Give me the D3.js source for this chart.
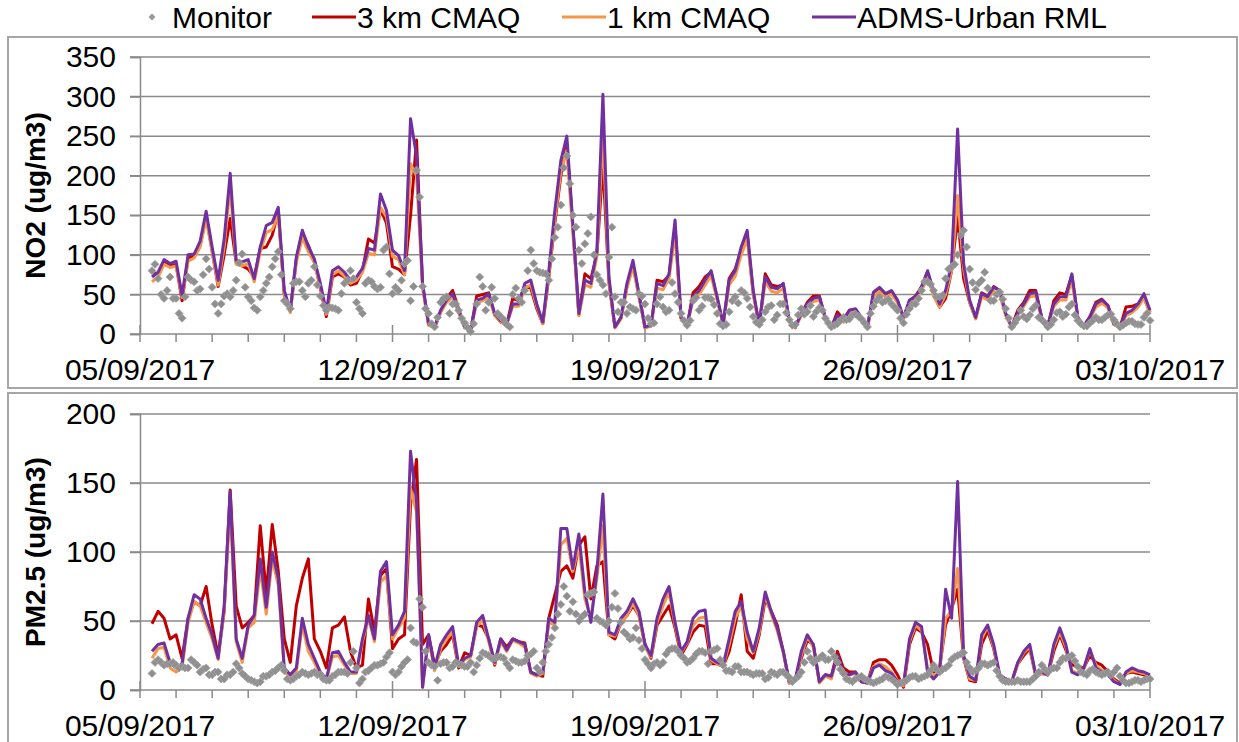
<!DOCTYPE html>
<html>
<head>
<meta charset="utf-8">
<script src="https://cdn.jsdelivr.net/npm/d3@7"></script>
<style>
  body { margin: 0; background: #fff; }
  text { font-family: "Liberation Sans", Arial, sans-serif; fill: #000; }
</style>
</head>
<body>
<svg id="chart" width="1239" height="742"></svg>
<script>
// model values are 4-hourly, first one at 05/09/2017 08:00
var startHour = 8;
var stepHours = 4;

var seriesNames = ["Monitor", "3 km CMAQ", "1 km CMAQ", "ADMS-Urban RML"];
var dateLabels = ["05/09/2017", "12/09/2017", "19/09/2017", "26/09/2017", "03/10/2017"];
var no2Ticks = [0, 50, 100, 150, 200, 250, 300, 350];
var pm25Ticks = [0, 50, 100, 150, 200];

// NO2 (ug/m3)
// monitor: "On" = 08:00, 12:00, ... ; "Mid" = 10:00, 14:00, ...
var no2MonitorOn = [80, 70, 45, 72, 45, 20, 72, 66, 57, 95, 59, 26, 48, 47, 68, 101, 47, 33, 47, 64, 85, 104, 42, 32, 66, 55, 64, 85, 48, 30, 33, 30, 64, 80, 40, 26, 68, 60, 59, 110, 51, 55, 89, 42, 207, 60, 26, 9, 40, 47, 38, 30, 14, 3, 38, 60, 40, 45, 22, 12, 50, 45, 55, 106, 80, 77, 68, 122, 163, 225, 150, 106, 114, 148, 75, 62, 97, 47, 40, 26, 32, 51, 38,
    13, 38, 34, 30, 51, 26, 11, 42, 30, 46, 44, 26, 10, 28, 47, 55, 45, 22, 12, 28, 36, 24, 38, 18, 12, 32, 28, 22, 33, 20, 9, 13, 21, 19, 25, 19, 9, 35, 47, 42, 38, 30, 14, 32, 38, 55, 66, 55, 47, 70, 85, 100, 131, 82, 56, 68, 58, 42, 53, 32, 9, 20, 22, 24, 36, 18, 9, 18, 28, 25, 38, 17, 10, 14, 21, 18, 24, 18, 9, 14, 16, 12, 21, 17];
var no2MonitorMid = [88, 50, 55, 45, 26, 47, 68, 55, 75, 82, 38, 38, 51, 55, 90, 59, 42, 30, 55, 72, 95, 75, 38, 64, 66, 47, 68, 62, 36, 34, 32, 51, 68, 70, 32, 64, 66, 57, 106, 76, 59, 68, 93, 60, 173, 32, 13, 21, 45, 26, 38, 20, 8, 13, 72, 30, 59, 26, 18, 9, 58, 40, 80, 89, 78, 76, 95, 135, 210, 190, 135, 89, 127, 100, 68, 51, 135, 28, 40, 34, 30, 48,
    20, 14, 47, 28, 65, 40, 17, 17, 46, 35, 46, 37, 13, 12, 42, 39, 52, 34, 15, 18, 34, 18, 38, 27, 11, 24, 25, 36, 28, 30, 14, 11, 17, 18, 24, 22, 14, 26, 42, 40, 44, 34, 20, 25, 38, 45, 66, 63, 47, 49, 82, 88, 125, 110, 65, 64, 78, 42, 50, 44, 20, 14, 30, 19, 32, 21, 14, 12, 27, 22, 34, 24, 13, 10, 17, 18, 21, 25, 13, 11, 16, 13, 12, 26];
var no2Cmaq3 = [77, 76, 90, 86, 88, 42, 96, 98, 112, 150, 105, 60, 100, 146, 90, 86, 82, 72, 108, 110, 125, 155, 50, 28, 94, 128, 112, 92, 58, 22, 72, 76, 72, 62, 64, 80, 120, 115, 158, 140, 85, 82, 75, 150, 245, 62, 12, 8, 28, 45, 55, 32, 8, 5, 48, 50, 52, 24, 15, 12, 45, 42, 60, 58, 32, 13, 72, 140, 200, 240, 135, 24, 76, 70, 100, 215, 65, 8, 20, 60, 88, 48, 8,
    10, 68, 66, 74, 135, 20, 10, 52, 60, 72, 78, 45, 12, 70, 82, 106, 125, 52, 10, 76, 62, 60, 62, 16, 8, 26, 40, 48, 48, 20, 8, 28, 18, 30, 30, 20, 8, 50, 56, 50, 54, 42, 20, 42, 48, 60, 78, 50, 34, 45, 80, 148, 70, 40, 20, 52, 48, 60, 55, 25, 9, 30, 40, 55, 55, 20, 10, 42, 52, 50, 74, 20, 10, 22, 40, 44, 36, 12, 8, 34, 35, 38, 46, 27];
var no2Cmaq1 = [66, 72, 88, 84, 86, 46, 92, 96, 110, 145, 104, 62, 110, 185, 88, 86, 89, 66, 104, 128, 132, 150, 50, 27, 90, 122, 104, 90, 60, 25, 75, 80, 73, 64, 68, 78, 102, 100, 160, 148, 98, 94, 75, 215, 200, 58, 11, 8, 27, 40, 47, 27, 8, 4, 40, 42, 47, 24, 15, 12, 35, 35, 58, 62, 35, 13, 74, 145, 205, 232, 128, 23, 62, 59, 98, 255, 66, 8, 19, 58, 85, 47, 8,
    10, 58, 56, 70, 128, 19, 10, 43, 50, 62, 74, 43, 12, 62, 73, 100, 120, 50, 10, 66, 54, 52, 58, 15, 8, 23, 35, 41, 43, 19, 8, 22, 15, 27, 29, 19, 8, 48, 54, 47, 50, 40, 19, 40, 43, 54, 72, 48, 34, 50, 80, 175, 82, 40, 19, 47, 43, 54, 50, 23, 8, 24, 35, 47, 48, 19, 10, 35, 43, 43, 68, 19, 10, 19, 34, 39, 33, 12, 8, 23, 27, 34, 46, 27];
var no2Adms = [72, 78, 94, 89, 92, 49, 100, 101, 117, 155, 110, 68, 120, 203, 93, 91, 94, 70, 110, 137, 141, 160, 55, 30, 97, 131, 110, 95, 64, 28, 80, 85, 78, 68, 72, 83, 108, 106, 177, 156, 106, 99, 80, 272, 225, 64, 13, 9, 30, 43, 51, 30, 9, 5, 43, 45, 51, 26, 17, 13, 38, 38, 64, 68, 38, 15, 80, 156, 219, 250, 139, 26, 68, 64, 106, 303, 72, 9, 21, 64, 93, 51, 9,
    11, 64, 61, 76, 144, 21, 11, 47, 55, 68, 80, 47, 13, 68, 80, 110, 131, 55, 11, 72, 59, 57, 64, 17, 9, 26, 38, 45, 47, 21, 9, 24, 17, 30, 32, 21, 9, 53, 59, 51, 55, 43, 21, 43, 47, 59, 80, 55, 38, 55, 89, 259, 89, 43, 21, 51, 47, 59, 55, 26, 9, 26, 38, 51, 53, 21, 11, 38, 47, 47, 76, 21, 11, 21, 38, 43, 36, 13, 9, 26, 30, 38, 51, 30];

// PM2.5 (ug/m3)
var pm25MonitorOn = [12, 22, 18, 19, 18, 17, 16, 20, 13, 16, 11, 13, 8, 11, 19, 12, 8, 6, 6, 10, 13, 16, 14, 7, 10, 13, 11, 13, 11, 7, 10, 13, 13, 20, 16, 8, 14, 18, 19, 24, 13, 13, 20, 45, 34, 60, 20, 17, 19, 20, 17, 19, 17, 20, 18, 27, 25, 23, 24, 19, 22, 20, 21, 26, 16, 20, 33, 45, 62, 68, 64, 50, 55, 70, 52, 49, 50, 70, 49, 40, 38, 36, 22,
    16, 20, 20, 29, 30, 25, 20, 23, 28, 27, 28, 30, 18, 14, 17, 13, 13, 11, 12, 8, 13, 11, 13, 9, 8, 13, 28, 20, 23, 22, 28, 20, 12, 7, 8, 10, 7, 5, 7, 10, 8, 4, 6, 9, 10, 9, 11, 18, 13, 16, 22, 25, 27, 16, 14, 19, 18, 20, 10, 6, 6, 7, 6, 6, 10, 18, 13, 16, 20, 23, 25, 17, 12, 14, 13, 11, 13, 13, 10, 5, 6, 7, 7, 8];
var pm25MonitorMid = [20, 20, 19, 20, 16, 16, 22, 18, 15, 11, 13, 8, 11, 13, 16, 10, 7, 5, 10, 11, 14, 18, 8, 8, 11, 12, 12, 11, 8, 7, 11, 13, 12, 28, 5, 13, 16, 18, 20, 27, 11, 17, 22, 35, 66, 28, 18, 7, 20, 16, 20, 18, 17, 13, 23, 26, 23, 24, 23, 16, 21, 20, 25, 28, 13, 28, 38, 55, 75, 57, 55, 53, 69, 71, 50, 47, 60, 59, 42, 37, 45, 30,
    19, 19, 18, 26, 30, 28, 23, 21, 26, 28, 19, 29, 22, 14, 13, 17, 13, 12, 12, 12, 9, 12, 13, 11, 6, 10, 20, 23, 22, 25, 22, 24, 15, 8, 6, 9, 8, 6, 6, 8, 9, 6, 5, 7, 10, 8, 10, 14, 15, 15, 18, 24, 26, 20, 13, 16, 19, 19, 14, 7, 6, 6, 6, 6, 8, 13, 15, 15, 16, 23, 24, 21, 13, 11, 15, 12, 12, 11, 16, 7, 5, 7, 6, 8];
var pm25Cmaq3 = [48, 57, 52, 37, 40, 23, 52, 64, 61, 75, 47, 25, 57, 145, 61, 45, 49, 54, 119, 70, 120, 86, 37, 20, 61, 81, 95, 37, 28, 16, 45, 47, 53, 28, 16, 18, 66, 42, 83, 88, 30, 37, 40, 134, 167, 33, 40, 18, 28, 33, 40, 16, 27, 25, 47, 46, 37, 18, 37, 31, 37, 35, 34, 13, 11, 10, 52, 69, 86, 90, 81, 105, 111, 66, 90, 93, 40, 37, 49, 54, 61, 54, 33,
    23, 47, 54, 61, 45, 25, 33, 42, 47, 46, 19, 19, 17, 28, 47, 69, 28, 23, 40, 66, 57, 47, 28, 5, 8, 23, 36, 33, 6, 11, 10, 28, 16, 13, 13, 6, 5, 20, 22, 22, 18, 11, 2, 33, 45, 42, 33, 13, 16, 47, 59, 73, 23, 7, 6, 33, 43, 30, 10, 8, 6, 19, 25, 30, 10, 12, 11, 28, 40, 29, 18, 17, 16, 25, 20, 18, 13, 8, 5, 12, 13, 12, 11, 8];
var pm25Cmaq1 = [23, 30, 31, 16, 13, 16, 49, 64, 61, 49, 37, 22, 57, 134, 35, 20, 45, 49, 88, 55, 95, 76, 13, 10, 13, 47, 28, 20, 11, 7, 24, 25, 18, 12, 12, 35, 52, 35, 78, 83, 37, 45, 52, 146, 129, 2, 37, 14, 30, 37, 42, 17, 22, 24, 46, 51, 35, 19, 35, 28, 36, 34, 31, 12, 10, 12, 49, 47, 105, 110, 86, 105, 66, 52, 81, 119, 40, 39, 49, 54, 63, 54, 31,
    24, 49, 61, 71, 47, 27, 34, 47, 52, 53, 22, 19, 17, 33, 52, 61, 37, 27, 42, 69, 55, 43, 27, 5, 7, 25, 39, 31, 5, 10, 8, 24, 12, 11, 12, 6, 5, 17, 19, 17, 13, 7, 3, 35, 47, 43, 16, 10, 14, 52, 57, 88, 24, 8, 7, 37, 46, 31, 10, 8, 6, 19, 27, 31, 10, 12, 11, 31, 42, 31, 14, 12, 15, 29, 18, 14, 12, 7, 4, 12, 14, 13, 12, 10];
var pm25Adms = [28, 33, 34, 20, 16, 19, 52, 69, 66, 52, 40, 23, 61, 144, 37, 23, 47, 54, 95, 60, 100, 81, 16, 11, 16, 52, 33, 23, 13, 8, 27, 28, 20, 13, 13, 37, 54, 37, 86, 93, 40, 47, 57, 173, 136, 2, 40, 16, 33, 40, 46, 18, 23, 25, 49, 54, 37, 20, 37, 29, 37, 35, 33, 13, 11, 13, 52, 49, 117, 117, 88, 113, 71, 49, 86, 142, 42, 40, 52, 57, 66, 57, 33,
    25, 52, 66, 75, 49, 28, 35, 52, 57, 58, 23, 20, 18, 37, 57, 64, 42, 28, 45, 71, 57, 45, 28, 6, 8, 28, 40, 33, 6, 11, 10, 25, 13, 11, 13, 6, 5, 16, 18, 14, 12, 6, 4, 37, 49, 46, 13, 8, 13, 73, 52, 151, 25, 10, 7, 40, 47, 33, 11, 8, 6, 20, 28, 33, 11, 13, 11, 33, 45, 33, 13, 11, 16, 30, 16, 13, 11, 6, 4, 13, 16, 14, 13, 11];

var lineColors = ["#c00000", "#f79646", "#7030a0"];
var gridColor = "#8a8a8a";

var svg = d3.select("#chart");

// x scale in hours from 05/09/2017 00:00
var x = d3.scaleLinear().domain([0, 28 * 24]).range([140, 1150]);
var dayHours = d3.range(0, 29).map(function (d) { return d * 24; });
var weekHours = [0, 168, 336, 504, 672];

// monitor table: on-hour and mid-hour readings merged into [hour, value] pairs
function monitorTable(onVals, midVals) {
    var rows = [];
    onVals.forEach(function (v, i) {
        rows.push([startHour + i * stepHours, v]);
        if (i < midVals.length) rows.push([startHour + i * stepHours + stepHours / 2, midVals[i]]);
    });
    return rows;
}

var panels = [
    { label: "NO2 (ug/m3)", ticks: no2Ticks, max: 350, top: 57, bottom: 334, box: [8, 37, 1229, 351],
      monitor: monitorTable(no2MonitorOn, no2MonitorMid), lines: [no2Cmaq3, no2Cmaq1, no2Adms] },
    { label: "PM2.5 (ug/m3)", ticks: pm25Ticks, max: 200, top: 414, bottom: 690, box: [8, 393, 1229, 360],
      monitor: monitorTable(pm25MonitorOn, pm25MonitorMid), lines: [pm25Cmaq3, pm25Cmaq1, pm25Adms] }
];

panels.forEach(function (p) {
    // panel border
    svg.append("rect")
        .attr("x", p.box[0]).attr("y", p.box[1])
        .attr("width", p.box[2]).attr("height", p.box[3])
        .attr("fill", "none")
        .attr("stroke", "#a6a6a6")
        .attr("stroke-width", 2);

    var y = d3.scaleLinear().domain([0, p.max]).range([p.bottom, p.top]);

    // gridlines
    svg.append("g")
        .selectAll("line")
        .data(p.ticks)
        .enter()
        .append("line")
        .attr("x1", 130).attr("x2", x.range()[1])
        .attr("y1", function (d) { return y(d); })
        .attr("y2", function (d) { return y(d); })
        .attr("stroke", gridColor)
        .attr("stroke-width", 1.5);

    // y axis
    var yAxis = svg.append("g")
        .attr("transform", "translate(140,0)")
        .call(d3.axisLeft(y).tickValues(p.ticks).tickSize(10).tickPadding(14));
    yAxis.selectAll("path, line").attr("stroke", gridColor).attr("stroke-width", 1.5);
    yAxis.selectAll("text").style("font-size", "30px").attr("fill", "#000");

    // x axis: daily minor ticks, weekly major ticks crossing the axis
    svg.append("g")
        .selectAll("line")
        .data(dayHours)
        .enter()
        .append("line")
        .attr("x1", function (d) { return x(d); })
        .attr("x2", function (d) { return x(d); })
        .attr("y1", function (d) { return weekHours.indexOf(d) >= 0 ? p.bottom - 9 : p.bottom; })
        .attr("y2", p.bottom + 8)
        .attr("stroke", gridColor)
        .attr("stroke-width", 1.5);

    svg.append("g")
        .selectAll("text")
        .data(weekHours)
        .enter()
        .append("text")
        .attr("x", function (d) { return x(d); })
        .attr("y", p.bottom + 46)
        .attr("text-anchor", "middle")
        .style("font-size", "30px")
        .text(function (d, i) { return dateLabels[i]; });

    // y label
    svg.append("text")
        .attr("transform", "translate(45," + ((p.top + p.bottom) / 2) + ") rotate(-90)")
        .attr("text-anchor", "middle")
        .style("font-size", "28px")
        .style("font-weight", "bold")
        .text(p.label);

    // model lines
    var line = d3.line()
        .x(function (d, i) { return x(startHour + i * stepHours); })
        .y(function (d) { return y(d); });

    p.lines.forEach(function (vals, k) {
        svg.append("path")
            .datum(vals)
            .attr("d", line)
            .attr("fill", "none")
            .attr("stroke", lineColors[k])
            .attr("stroke-width", 3)
            .attr("stroke-linejoin", "round");
    });

    // monitor diamonds
    svg.append("g")
        .selectAll("path")
        .data(p.monitor)
        .enter()
        .append("path")
        .attr("transform", function (d) { return "translate(" + x(d[0]) + "," + y(d[1]) + ")"; })
        .attr("d", "M0,-4L4,0L0,4L-4,0Z")
        .attr("fill", "#8f8f8f")
        .attr("stroke", "#a3a3a3")
        .attr("stroke-width", 0.8);
});

// legend
var legend = svg.append("g");
legend.append("path")
    .attr("transform", "translate(152,17)")
    .attr("d", "M0,-3.5L3.5,0L0,3.5L-3.5,0Z")
    .attr("fill", "#999999");
legend.append("text")
    .attr("x", 172).attr("y", 28)
    .style("font-size", "30px")
    .text(seriesNames[0]);

var legendX = [312, 562, 812];
legendX.forEach(function (lx, k) {
    legend.append("line")
        .attr("x1", lx).attr("x2", lx + 44)
        .attr("y1", 17).attr("y2", 17)
        .attr("stroke", lineColors[k])
        .attr("stroke-width", 3);
    legend.append("text")
        .attr("x", lx + 45).attr("y", 28)
        .style("font-size", "30px")
        .text(seriesNames[k + 1]);
});
</script>
</body>
</html>
